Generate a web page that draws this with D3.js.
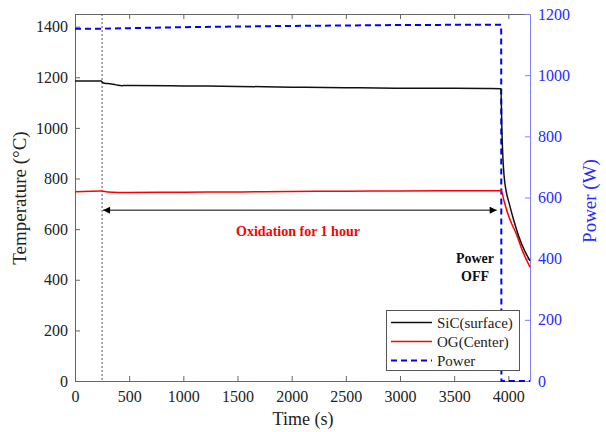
<!DOCTYPE html>
<html>
<head>
<meta charset="utf-8">
<script src="https://cdn.jsdelivr.net/npm/d3@7/dist/d3.min.js"></script>
<style>
  html, body { margin: 0; padding: 0; background: #fff; }
  svg { display: block; font-family: "Liberation Serif", "Times New Roman", serif; }
  svg text { font-family: "Liberation Serif", "Times New Roman", serif; }
</style>
</head>
<body>
<svg id="chart" width="606" height="432"></svg>
<script>
// Time axis ticks (s)
const timeTicks = [0, 500, 1000, 1500, 2000, 2500, 3000, 3500, 4000];
const tempTicks = [0, 200, 400, 600, 800, 1000, 1200, 1400];
const powerTicks = [0, 200, 400, 600, 800, 1000, 1200];

// SiC surface temperature (°C)
const sicTime = [0, 240, 262, 300, 380, 430, 470, 1000, 1500, 2000, 2500, 3000, 3500, 3800, 3932, 3940, 3950, 3962, 3980, 4009, 4050, 4095, 4150, 4200];
const sicTemp = [1185, 1185, 1177, 1175, 1170, 1167, 1168, 1166, 1164, 1161, 1159, 1157, 1157, 1156, 1155, 1000, 880, 805, 750, 700, 635, 573, 515, 475];

// OG center temperature (°C)
const ogTime = [0, 250, 300, 500, 1000, 1500, 2000, 2500, 3000, 3500, 3935, 3960, 3994, 4030, 4071, 4130, 4200];
const ogTemp = [748, 751, 747, 745, 746, 747, 749, 750, 751, 752, 752, 712, 663, 622, 584, 515, 450];

// Heating power (W)
const powerTime = [0, 250, 1000, 2000, 3000, 3934, 3936, 4200];
const powerVal = [1152, 1152, 1157, 1161, 1164, 1165, 0, 0];

const oxStart = 250;     // start of oxidation (s)
const oxEnd = 3920;      // power switched off (s)

const svg = d3.select("#chart");
const L = 75, R = 530, T = 14, B = 381;

const x = d3.scaleLinear().domain([0, 4200]).range([L, R]);
const yT = d3.scaleLinear().domain([0, 1450]).range([B, T]);
const yP = d3.scaleLinear().domain([0, 1200]).range([B, T]);

const axisGray = "#666";
const blueAxis = "#8080ff";
const blueText = "#2a2aff";
const serif = "Liberation Serif, Times New Roman, serif";
const fmt = d3.format("d");

function styleAxis(g, lineColor, textColor) {
  g.attr("font-family", serif).attr("font-size", 16);
  g.select(".domain").attr("stroke", lineColor);
  g.selectAll(".tick line").attr("stroke", lineColor);
  g.selectAll("text").attr("fill", textColor);
}

// top frame line with inward ticks
const topAxis = svg.append("g").attr("transform", `translate(0,${T})`)
  .call(d3.axisTop(x).tickValues(timeTicks).tickSizeInner(-5).tickSizeOuter(0).tickFormat(""));
styleAxis(topAxis, axisGray, "#222");

// bottom axis
const bx = svg.append("g").attr("transform", `translate(0,${B})`)
  .call(d3.axisBottom(x).tickValues(timeTicks).tickFormat(fmt).tickSizeInner(-5).tickSizeOuter(0).tickPadding(10));
styleAxis(bx, axisGray, "#222");

// left axis
const ly = svg.append("g").attr("transform", `translate(${L},0)`)
  .call(d3.axisLeft(yT).tickValues(tempTicks).tickFormat(fmt).tickSizeInner(-5).tickSizeOuter(0).tickPadding(7));
styleAxis(ly, axisGray, "#222");

// right axis (power)
const ry = svg.append("g").attr("transform", `translate(${R},0)`)
  .call(d3.axisRight(yP).tickValues(powerTicks).tickFormat(fmt).tickSizeInner(-5).tickSizeOuter(0).tickPadding(8));
styleAxis(ry, blueAxis, blueText);

// axis titles
svg.append("text").attr("x", 303).attr("y", 425).attr("text-anchor", "middle")
  .attr("font-size", 18).attr("fill", "#222").text("Time (s)");
svg.append("text").attr("transform", "translate(26,198) rotate(-90)").attr("text-anchor", "middle")
  .attr("font-size", 19).attr("fill", "#222").text("Temperature (°C)");
svg.append("text").attr("transform", "translate(596,201) rotate(-90)").attr("text-anchor", "middle")
  .attr("font-size", 19).attr("fill", blueText).text("Power (W)");

// oxidation start marker
svg.append("line")
  .attr("x1", x(oxStart)).attr("x2", x(oxStart)).attr("y1", T).attr("y2", B)
  .attr("stroke", "#555").attr("stroke-width", 1).attr("stroke-dasharray", "2,2");

// series
const toPts = (ts, vs) => ts.map((t, i) => [t, vs[i]]);

svg.append("path")
  .datum(toPts(powerTime, powerVal))
  .attr("fill", "none").attr("stroke", "#0000ff").attr("stroke-width", 2)
  .attr("stroke-dasharray", "6,4")
  .attr("d", d3.line().x(d => x(d[0])).y(d => yP(d[1])));

svg.append("path")
  .datum(toPts(ogTime, ogTemp))
  .attr("fill", "none").attr("stroke", "#ff0000").attr("stroke-width", 1.5)
  .attr("d", d3.line().x(d => x(d[0])).y(d => yT(d[1])).curve(d3.curveMonotoneX));

svg.append("path")
  .datum(toPts(sicTime, sicTemp))
  .attr("fill", "none").attr("stroke", "#111").attr("stroke-width", 1.5)
  .attr("d", d3.line().x(d => x(d[0])).y(d => yT(d[1])).curve(d3.curveMonotoneX));

// oxidation period arrow
const defs = svg.append("defs");
defs.append("marker").attr("id", "ah").attr("viewBox", "0 0 10 10")
  .attr("refX", 10).attr("refY", 5).attr("markerWidth", 9).attr("markerHeight", 7)
  .attr("markerUnits", "userSpaceOnUse").attr("orient", "auto-start-reverse")
  .append("path").attr("d", "M0,0 L10,5 L0,10 Z").attr("fill", "#000");

const arrowY = yT(675);
svg.append("line")
  .attr("x1", x(oxStart) + 1).attr("x2", x(oxEnd) - 3)
  .attr("y1", arrowY).attr("y2", arrowY)
  .attr("stroke", "#000").attr("stroke-width", 1)
  .attr("marker-start", "url(#ah)").attr("marker-end", "url(#ah)");

svg.append("text").attr("x", 298).attr("y", 236).attr("text-anchor", "middle")
  .attr("font-size", 14).attr("font-weight", "bold").attr("fill", "#ff0000")
  .text("Oxidation for 1 hour");

svg.append("text").attr("x", 475).attr("y", 263).attr("text-anchor", "middle")
  .attr("font-size", 14).attr("font-weight", "bold").attr("fill", "#111").text("Power");
svg.append("text").attr("x", 475).attr("y", 281).attr("text-anchor", "middle")
  .attr("font-size", 14).attr("font-weight", "bold").attr("fill", "#111").text("OFF");

// legend
const legendItems = [
  { label: "SiC(surface)", color: "#111", dash: null, w: 1.5 },
  { label: "OG(Center)", color: "#ff0000", dash: null, w: 1.5 },
  { label: "Power", color: "#0000ff", dash: "6,4", w: 2 }
];
const lg = svg.append("g");
lg.append("rect").attr("x", 386.5).attr("y", 310.5).attr("width", 133).attr("height", 60)
  .attr("fill", "#fff").attr("stroke", "#555").attr("stroke-width", 1);
legendItems.forEach((d, i) => {
  const cy = 322.5 + i * 19;
  lg.append("line").attr("x1", 391).attr("x2", 432).attr("y1", cy).attr("y2", cy)
    .attr("stroke", d.color).attr("stroke-width", d.w).attr("stroke-dasharray", d.dash);
  lg.append("text").attr("x", 437).attr("y", cy + 5).attr("font-size", 15).attr("fill", "#222")
    .text(d.label);
});
</script>
</body>
</html>
